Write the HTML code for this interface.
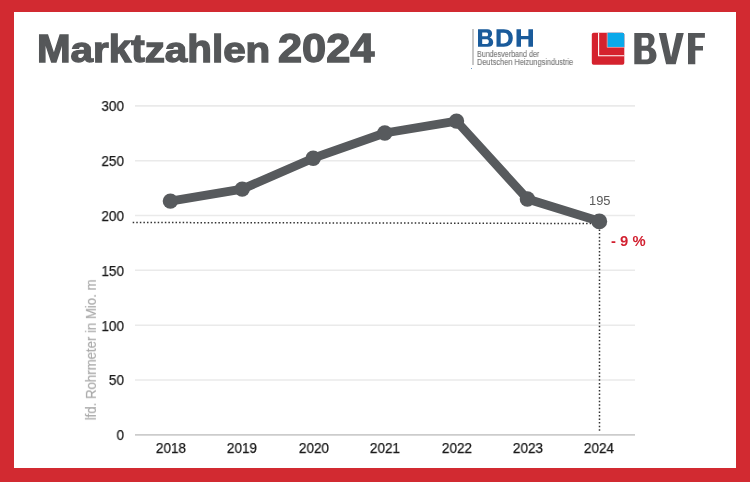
<!DOCTYPE html>
<html><head><meta charset="utf-8">
<style>
html,body{margin:0;padding:0;}
body{width:750px;height:482px;position:relative;overflow:hidden;background:#d22a31;font-family:"Liberation Sans",sans-serif;}
#inner{position:absolute;left:14px;top:12px;width:722px;height:456px;background:#fff;}
.a{position:absolute;white-space:nowrap;line-height:1;will-change:transform;}
#title,#title2{top:29.6px;font-size:38.7px;font-weight:bold;color:#555759;-webkit-text-stroke:1.4px #555759;transform-origin:0 0;}
#title{left:36.6px;transform:scaleX(1.043);}
#title i{font-style:normal;display:inline-block;transform:scaleY(0.915);transform-origin:50% 32.76px;}
#title2{left:278.4px;top:27.8px;font-size:40px;transform:scaleX(1.083);}
.bdhs{font-size:8.5px;color:#7c7c7c;left:476.8px;-webkit-text-stroke:0.15px #7c7c7c;transform-origin:0 0;transform:scaleX(0.84);}
.yl{font-size:14.5px;color:#1a1a1a;-webkit-text-stroke:0.25px #1a1a1a;text-align:right;width:40px;left:84.4px;transform-origin:100% 0;transform:scaleX(0.93);}
.xl{font-size:14.5px;color:#1a1a1a;-webkit-text-stroke:0.25px #1a1a1a;text-align:center;width:60px;transform-origin:50% 0;transform:scaleX(0.93);}
#ylab{font-size:15px;color:#a8a8a8;-webkit-text-stroke:0.2px #a8a8a8;left:0;top:0;transform-origin:0 0;transform:translate(82.9px,420.3px) rotate(-90deg) scaleX(0.88);}
</style></head><body>
<div id="inner"></div>
<div class="a" id="title">M<i>ar</i>kt<i>za</i>hl<i>en</i></div><div class="a" id="title2">2024</div>

<div style="position:absolute;left:472.2px;top:29.2px;width:1.4px;height:35.5px;background:#c8c8c8"></div>
<div style="position:absolute;left:471px;top:68px;width:1px;height:1px;background:#6b9ac8"></div>
<svg style="position:absolute;left:0;top:0" width="750" height="482">
  <g fill="#1a5b9b" fill-rule="evenodd">
  <path d="M478,29.2 H487.3 C490.4,29.2 492.1,31 492.1,33.4 C492.1,35.3 491.1,36.8 489.6,37.6 C491.9,38.3 493.2,40.1 493.2,42.4 C493.2,45.1 491.2,46.8 488,46.8 H478 Z M482.2,32.6 H486.6 C487.6,32.6 488,33.3 488,34.4 C488,35.6 487.5,36.3 486.4,36.3 H482.2 Z M482.2,39.3 H486.9 C488.2,39.3 488.8,40.2 488.8,41.6 C488.8,43.1 488.2,43.9 486.9,43.9 H482.2 Z"/>
  <path d="M496.5,29.2 H503.8 C509.5,29.2 512.8,32.5 512.8,38 C512.8,43.5 509.5,46.8 503.8,46.8 H496.5 Z M500.7,32.7 H503.5 C506.7,32.7 508.5,34.6 508.5,38 C508.5,41.4 506.7,43.4 503.5,43.4 H500.7 Z"/>
  <path d="M516.5,29.2 H521 V36.1 H528.4 V29.2 H533 V46.8 H528.4 V39.3 H521 V46.8 H516.5 Z"/>
  </g>
</svg>
<div class="a bdhs" style="top:50.3px">Bundesverband der</div>
<div class="a bdhs" style="top:58.2px;transform:scaleX(0.87)">Deutschen Heizungsindustrie</div>

<svg style="position:absolute;left:0;top:0" width="750" height="482">
  <rect x="591.8" y="32.7" width="32.5" height="32" rx="1.8" fill="#d5222e"/>
  <path d="M607.5 32.7 H622.5 a1.8 1.8 0 0 1 1.8 1.8 V47.1 H607.5 Z" fill="#0aa9ea"/>
  <path d="M598.6 32.7 V55.8 H624.3" fill="none" stroke="#fff" stroke-width="1.1"/>
  <path d="M607.2 32.7 V47.4 H624.3" fill="none" stroke="#fff" stroke-width="0.6" opacity="0.8"/>
</svg>
<svg style="position:absolute;left:0;top:0" width="750" height="482">
  <g fill="#555759">
  <path fill-rule="evenodd" d="M634.3,33 H647 C652,33 654.6,35.6 654.6,39.6 C654.6,43.1 653,45.5 650.6,47.3 C654.6,48.5 656.5,51.6 656.5,55.6 C656.5,60.6 653,64.2 647.5,64.2 H634.3 Z M641.6,37.8 H646.3 C647.9,37.8 648.5,38.9 648.5,40.8 V42.7 C648.5,44.6 647.8,45.7 646,45.7 H641.6 Z M641.6,50.7 H646.5 C648.5,50.7 649.3,52 649.3,54.5 V55.7 C649.3,58.3 648.5,59.5 646.5,59.5 H641.6 Z"/>
  <path d="M658.8,33 H666.1 L671.1,57.3 L676.5,33 H683.8 L675.7,64.2 H666.1 Z"/>
  <path d="M688,33 H704.9 V37.7 H695.3 V46.1 H703 V50.4 H695.3 V64.2 H688 Z"/>
  </g>
</svg>

<svg style="position:absolute;left:0;top:0" width="750" height="482">
  <g stroke="#eaeaea" stroke-width="1.6">
    <line x1="135" x2="635" y1="105.9" y2="105.9"/>
    <line x1="135" x2="635" y1="160.7" y2="160.7"/>
    <line x1="135" x2="635" y1="215.5" y2="215.5"/>
    <line x1="135" x2="635" y1="270.3" y2="270.3"/>
    <line x1="135" x2="635" y1="325.2" y2="325.2"/>
    <line x1="135" x2="635" y1="380.0" y2="380.0"/>
  </g>
  <line x1="135" x2="635" y1="434.9" y2="434.9" stroke="#cccccc" stroke-width="1.6"/>
  <line x1="132.7" x2="598" y1="222.5" y2="223.5" stroke="#333" stroke-width="1.5" stroke-dasharray="1.5 2.07"/>
  <line x1="599.5" x2="599.5" y1="222.37" y2="431" stroke="#333" stroke-width="1.5" stroke-dasharray="1.5 2.067"/>
  <polyline points="170.4,201.1 242.2,189.1 313.2,158.2 384.8,133.0 456.5,121.1 527.4,199.0 599.3,221.3" fill="none" stroke="#575a5d" stroke-width="8.8" stroke-linejoin="round"/>
  <g fill="#575a5d">
    <circle cx="170.4" cy="201.1" r="7.7"/>
    <circle cx="242.2" cy="189.1" r="7.7"/>
    <circle cx="313.2" cy="158.2" r="7.7"/>
    <circle cx="384.8" cy="133.0" r="7.7"/>
    <circle cx="456.5" cy="121.1" r="7.7"/>
    <circle cx="527.4" cy="199.0" r="7.7"/>
    <circle cx="599.3" cy="221.4" r="7.9"/>
  </g>
</svg>

<div class="a yl" style="top:99.3px">300</div>
<div class="a yl" style="top:154.1px">250</div>
<div class="a yl" style="top:208.9px">200</div>
<div class="a yl" style="top:263.7px">150</div>
<div class="a yl" style="top:318.6px">100</div>
<div class="a yl" style="top:373.4px">50</div>
<div class="a yl" style="top:428.3px">0</div>

<div class="a xl" style="left:140.5px;top:440.8px">2018</div>
<div class="a xl" style="left:212px;top:440.8px">2019</div>
<div class="a xl" style="left:283.5px;top:440.8px">2020</div>
<div class="a xl" style="left:355px;top:440.8px">2021</div>
<div class="a xl" style="left:426.5px;top:440.8px">2022</div>
<div class="a xl" style="left:498px;top:440.8px">2023</div>
<div class="a xl" style="left:569px;top:440.8px">2024</div>

<div class="a" style="left:588.5px;top:194.5px;font-size:12.3px;color:#5a5a5a;transform-origin:0 0;transform:scaleX(1.05)">195</div>
<div class="a" style="left:610.8px;top:234.1px;font-size:14.8px;font-weight:bold;color:#d21f2f">- 9 %</div>

<div class="a" id="ylab">lfd. Rohrmeter in Mio. m</div>
</body></html>
